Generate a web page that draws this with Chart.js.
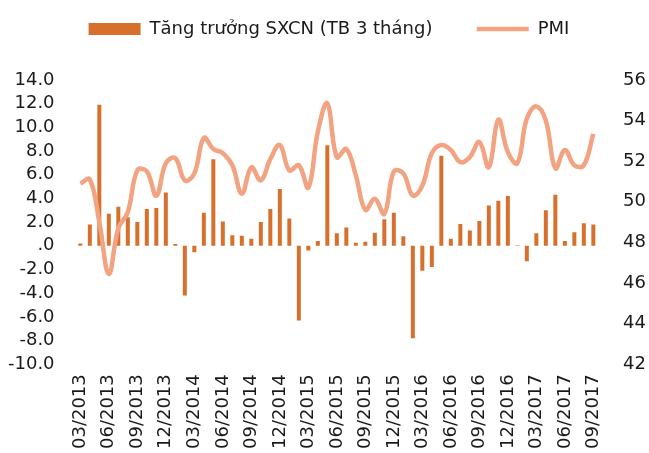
<!DOCTYPE html>
<html>
<head>
<meta charset="utf-8">
<script src="https://cdn.jsdelivr.net/npm/chart.js@4"></script>
<style>
  body { margin: 0; background: #fff; }
  #wrap { width: 649px; height: 453px; }
</style>
</head>
<body>
<div id="wrap"><canvas id="chart"></canvas></div>
<script>
// months, 03/2013 .. 09/2017
let months = [
    '03/2013', '04/2013', '05/2013', '06/2013', '07/2013', '08/2013', '09/2013', '10/2013', '11/2013', '12/2013',
    '01/2014', '02/2014', '03/2014', '04/2014', '05/2014', '06/2014', '07/2014', '08/2014', '09/2014', '10/2014', '11/2014', '12/2014',
    '01/2015', '02/2015', '03/2015', '04/2015', '05/2015', '06/2015', '07/2015', '08/2015', '09/2015', '10/2015', '11/2015', '12/2015',
    '01/2016', '02/2016', '03/2016', '04/2016', '05/2016', '06/2016', '07/2016', '08/2016', '09/2016', '10/2016', '11/2016', '12/2016',
    '01/2017', '02/2017', '03/2017', '04/2017', '05/2017', '06/2017', '07/2017', '08/2017', '09/2017'
];

// industrial production growth, 3-month average (left axis)
let sxcn = [
    0.2, 1.8, 11.9, 2.7, 3.3, 2.4, 2.0, 3.1, 3.2, 4.5,
    0.15, -4.2, -0.55, 2.8, 7.3, 2.05, 0.9, 0.85, 0.6, 2.0, 3.1, 4.8,
    2.3, -6.3, -0.4, 0.4, 8.5, 1.05, 1.55, 0.25, 0.35, 1.1, 2.25, 2.8,
    0.8, -7.8, -2.1, -1.8, 7.6, 0.6, 1.85, 1.3, 2.1, 3.4, 3.8, 4.2,
    0.05, -1.3, 1.05, 3.0, 4.3, 0.4, 1.15, 1.9, 1.8
];

// PMI (right axis)
let pmi = [
    50.9, 51.1, 49.0, 46.45, 48.7, 49.5, 51.55, 51.5, 50.3, 51.9,
    52.15, 51.05, 51.4, 53.15, 52.6, 52.4, 51.8, 50.4, 51.7, 51.05, 52.1, 52.8,
    51.55, 51.8, 50.7, 53.45, 54.85, 52.2, 52.6, 51.3, 49.6, 50.15, 49.4, 51.5,
    51.4, 50.3, 50.8, 52.4, 52.8, 52.55, 51.95, 52.2, 52.95, 51.7, 54.05, 52.45,
    51.9, 54.1, 54.7, 54.0, 51.65, 52.55, 51.8, 51.8, 53.35
];

let leftTicks = { min: -10, max: 14, step: 2 };
let rightTicks = { min: 42, max: 56, step: 2 };

let fontFamily = '"DejaVu Sans", sans-serif';
let textColor = '#1a1a1a';

new Chart(document.getElementById('chart'), {
    data: {
        labels: months,
        datasets: [
            {
                type: 'bar',
                label: 'Tăng trưởng SXCN (TB 3 tháng)',
                data: sxcn,
                yAxisID: 'y',
                backgroundColor: '#d6702c',
                borderWidth: 0,
                barPercentage: 0.42,
                categoryPercentage: 1,
                pointStyle: 'rect',
                order: 1
            },
            {
                type: 'line',
                label: 'PMI',
                data: pmi,
                yAxisID: 'y1',
                borderColor: '#f2a381',
                backgroundColor: '#f2a381',
                borderWidth: 4.5,
                tension: 0.4,
                pointRadius: 0,
                pointStyle: 'line',
                order: 0
            }
        ]
    },
    options: {
        responsive: true,
        maintainAspectRatio: false,
        animation: false,
        layout: { padding: { top: 10, left: -5, right: -14, bottom: 2 } },
        plugins: {
            tooltip: { enabled: false },
            legend: {
                position: 'top',
                labels: {
                    color: textColor,
                    font: { family: fontFamily, size: 18 },
                    usePointStyle: true,
                    pointStyleWidth: 52,
                    boxHeight: 12,
                    padding: 10,
                    generateLabels(chart) {
                        let items = Chart.defaults.plugins.legend.labels.generateLabels(chart);
                        items.sort((a, b) => a.datasetIndex - b.datasetIndex);
                        items[0].text += '      '; // extra gap before PMI
                        return items;
                    }
                }
            },
            // empty title used only as a spacer under the legend
            title: {
                display: true,
                text: '',
                weight: 500,
                font: { size: 12, lineHeight: 1 },
                padding: { top: 0, bottom: 20 }
            }
        },
        scales: {
            x: {
                grid: { display: false },
                border: { display: false },
                ticks: {
                    autoSkip: false,
                    maxRotation: 90,
                    minRotation: 90,
                    padding: 2,
                    color: textColor,
                    font: { family: fontFamily, size: 18 },
                    callback: (v, i) => i % 3 === 0 ? months[i] : ''
                }
            },
            y: {
                position: 'left',
                min: leftTicks.min,
                max: leftTicks.max,
                grid: { display: false },
                border: { display: false },
                ticks: {
                    autoSkip: false,
                    stepSize: leftTicks.step,
                    padding: 13,
                    color: textColor,
                    font: { family: fontFamily, size: 18 },
                    callback: v => v === 0 ? '.0' : v.toFixed(1)
                }
            },
            y1: {
                position: 'right',
                min: rightTicks.min,
                max: rightTicks.max,
                grid: { display: false },
                border: { display: false },
                ticks: {
                    autoSkip: false,
                    stepSize: rightTicks.step,
                    padding: 17,
                    color: textColor,
                    font: { family: fontFamily, size: 18 }
                }
            }
        }
    }
});
</script>
</body>
</html>
